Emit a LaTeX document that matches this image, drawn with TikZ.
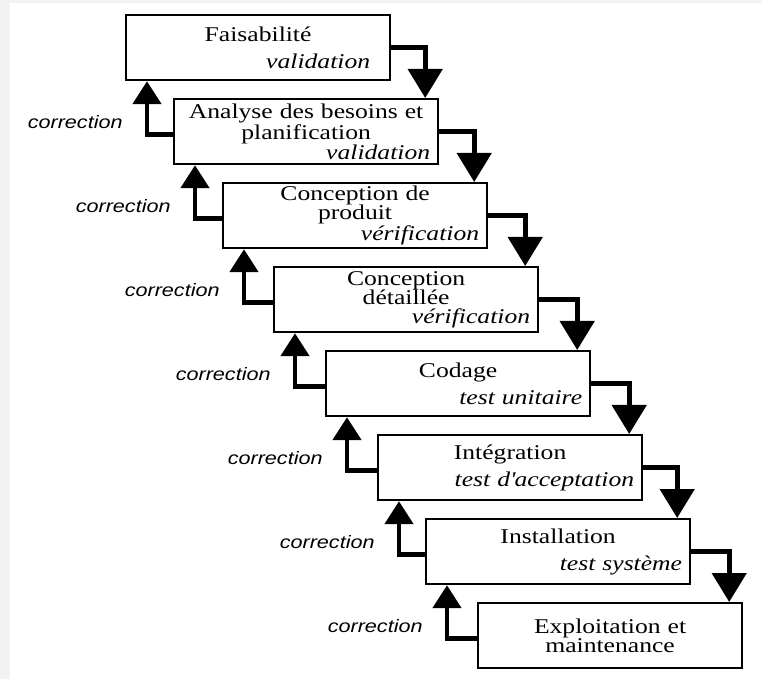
\documentclass[tikz,border=0pt]{standalone}
\usepackage{fontspec}
\setmainfont{Liberation Serif}[FakeStretch=1.22]
\newfontfamily\corrfont{Liberation Sans}[FakeStretch=1.2]
\usetikzlibrary{arrows.meta, positioning}
\newcommand{\verif}[2][0pt]{\\[#1]\leavevmode\hfill\textit{#2}\hspace*{4pt}}

\begin{document}
\begin{tikzpicture}[
        x=0.5pt, y=-0.5pt,
        stage/.style={draw, rectangle, line width=1.1pt, anchor=north west, minimum width=132pt, minimum height=32.5pt, inner xsep=4pt, inner ysep=0pt, text width=124pt, align=center, font=\fontsize{10.5}{9.6}\selectfont},
        down/.style={-{Triangle[width=17pt, length=14.5pt]}, line width=2.4pt},
        up/.style={-{Triangle[width=14pt, length=11.5pt]}, line width=2.4pt},
        corr/.style={left=11pt, inner sep=0pt, pos=0.62, font=\corrfont\itshape\fontsize{9}{10}\selectfont}
    ]
        \useasboundingbox (0,0) rectangle (761,679);
        \fill[gray!10] (0,0) rectangle (10,679);
        \fill[gray!10] (0,0) rectangle (761,3);

        % Stages of the cascade
        \node[stage] (feas) at (125,14) {Faisabilité\verif[4pt]{validation\hspace*{6pt}}};
        \node[stage] (analyse) at (173,98) {Analyse des besoins et\\planification\verif{validation}};
        \node[stage] (prod) at (222,182) {Conception de\hspace*{17pt}\\produit\hspace*{17pt}\verif{vérification}};
        \node[stage] (detail) at (273,266) {Conception\hspace*{17pt}\\détaillée\hspace*{17pt}\verif{vérification}};
        \node[stage] (code) at (325,350) {Codage\verif[4pt]{test unitaire}};
        \node[stage] (integ) at (377,434) {Intégration\verif[4pt]{test d\textquotesingle acceptation}};
        \node[stage] (install) at (425,518) {Installation\verif[4pt]{test système}};
        \node[stage] (exploit) at (477,602) {Exploitation et\\maintenance};

        % Going down
        \draw[down] (feas.east) -| ([xshift=-7pt]analyse.north east);
        \draw[down] (analyse.east) -| ([xshift=-7pt]prod.north east);
        \draw[down] (prod.east) -| ([xshift=-7pt]detail.north east);
        \draw[down] (detail.east) -| ([xshift=-7pt]code.north east);
        \draw[down] (code.east) -| ([xshift=-7pt]integ.north east);
        \draw[down] (integ.east) -| ([xshift=-7pt]install.north east);
        \draw[down] (install.east) -| ([xshift=-7pt]exploit.north east);

        % Going back up
        \draw[up] ([yshift=-1.5pt]analyse.west) -| node[corr] {correction} ([xshift=11pt]feas.south west);
        \draw[up] ([yshift=-1.5pt]prod.west) -| node[corr] {correction} ([xshift=11pt]analyse.south west);
        \draw[up] ([yshift=-1.5pt]detail.west) -| node[corr] {correction} ([xshift=11pt]prod.south west);
        \draw[up] ([yshift=-1.5pt]code.west) -| node[corr] {correction} ([xshift=11pt]detail.south west);
        \draw[up] ([yshift=-1.5pt]integ.west) -| node[corr] {correction} ([xshift=11pt]code.south west);
        \draw[up] ([yshift=-1.5pt]install.west) -| node[corr] {correction} ([xshift=11pt]integ.south west);
        \draw[up] ([yshift=-1.5pt]exploit.west) -| node[corr] {correction} ([xshift=11pt]install.south west);
    \end{tikzpicture}
\end{document}
